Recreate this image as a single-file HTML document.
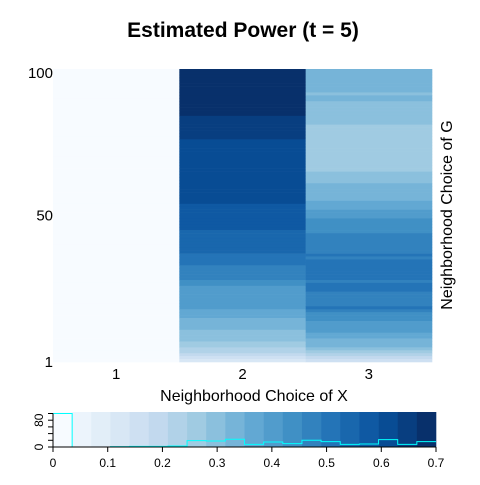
<!DOCTYPE html>
<html><head><meta charset="utf-8"><style>
body{margin:0;background:#fff;}
svg text{font-family:"Liberation Sans",sans-serif;}
</style></head><body>
<svg id="chart" width="480" height="480" viewBox="0 0 480 480">
<text x="243" y="37" font-size="21" font-weight="bold" text-anchor="middle">Estimated Power (t = 5)</text>
<g id="heat"></g>
<g id="axes"></g>
<text x="254" y="401" font-size="16" text-anchor="middle">Neighborhood Choice of X</text>
<text transform="translate(452,215) rotate(-90)" font-size="16" text-anchor="middle">Neighborhood Choice of G</text>
<g id="cbar"></g>
</svg>
<script>
// rows listed from y=100 (top) down to y=1 (bottom)
const categories = ["1","2","3"];
const yTickLabels = ["100","50","1"];
const keyTickLabels = ["0","0.1","0.2","0.3","0.4","0.5","0.6","0.7"];
const col1 = [0,0,0,0,0,0,0,0,0,0,0,0,0,0,0,0,0,0,0,0,0,0,0,0,0,0,0,0,0,0,0,0,0,0,0,0,0,0,0,0,0,0,0,0,0,0,0,0,0,0,0,0,0,0,0,0,0,0,0,0,0,0,0,0,0,0,0,0,0,0,0,0,0,0,0,0,0,0,0,0,0,0,0,0,0,0,0,0,0,0,0,0,0,0,0,0,0,0,0,0];
const col2 = [0.683,0.683,0.683,0.683,0.683,0.683,0.683,0.683,0.683,0.683,0.683,0.683,0.683,0.683,0.683,0.683,
0.648,0.648,0.648,0.648,0.648,0.648,0.648,0.648,
0.613,0.613,0.613,0.613,0.613,0.613,0.613,0.613,0.613,0.613,0.613,0.613,0.613,0.613,0.613,0.613,0.613,0.613,0.613,0.613,0.613,0.613,
0.578,0.578,0.578,0.578,0.578,0.578,0.578,0.578,0.578,
0.543,0.543,0.543,0.543,0.543,0.543,0.543,0.543,
0.508,0.508,0.508,0.508,0.473,0.473,0.473,0.473,0.473,0.438,0.438,
0.403,0.403,0.403,0.403,0.403,0.403,0.403,0.403,
0.368,0.368,0.368,0.333,0.333,0.333,0.333,0.298,0.298,0.298,0.298,
0.263,0.263,0.228,0.228,0.193,0.158,0.123];
const col3 = [0.333,0.333,0.333,0.333,0.333,0.333,0.333,0.333,0.298,0.333,0.333,
0.298,0.298,0.298,0.298,0.298,0.298,0.298,0.298,
0.263,0.263,0.263,0.263,0.263,0.263,0.263,0.263,0.263,0.263,0.263,0.263,0.263,0.263,0.263,0.263,
0.298,0.298,0.298,0.298,0.333,0.333,0.333,0.333,0.333,0.333,
0.368,0.368,0.368,0.403,0.403,0.403,0.438,0.438,0.438,0.438,0.438,
0.473,0.473,0.473,0.473,0.473,0.473,0.473,0.508,0.473,
0.508,0.508,0.508,0.508,0.508,0.508,0.508,0.473,0.508,0.508,0.508,
0.473,0.473,0.473,0.473,0.473,0.508,0.473,
0.438,0.438,0.438,0.403,0.403,0.403,0.403,0.368,0.368,
0.333,0.333,0.333,0.298,0.263,0.228,0.193,0.158];
const columns = [col1,col2,col3];

const NS="http://www.w3.org/2000/svg";
function mk(tag,attrs,parent){const e=document.createElementNS(NS,tag);for(const k in attrs)e.setAttribute(k,attrs[k]);parent.appendChild(e);return e;}
const stops=["#f7fbff","#deebf7","#c6dbef","#9ecae1","#6baed6","#4292c6","#2171b5","#08519c","#08306b"];
function hex(h){return [1,3,5].map(i=>parseInt(h.substr(i,2),16));}
function ramp(t){const p=t*(stops.length-1);const i=Math.min(Math.floor(p),stops.length-2);const f=p-i;const a=hex(stops[i]),b=hex(stops[i+1]);return "rgb("+a.map((v,k)=>Math.round(v+(b[k]-v)*f)).join(",")+")";}
const NB=20, VMAX=0.7;
function binOf(v){return Math.max(0,Math.min(NB-1,Math.floor(v/VMAX*NB)));}
function colorOf(v){return ramp(binOf(v)/(NB-1));}

const L=53,R=432,T=69,B=362;
const nRows=col1.length;
const xBand=i=>L+(R-L)*i/categories.length;
const yRow=r=>T+(B-T)*r/nRows;
const heat=document.getElementById('heat');
columns.forEach((col,ci)=>{
  col.forEach((v,r)=>{
    const rc=mk('rect',{x:xBand(ci),y:yRow(r),width:xBand(ci+1)-xBand(ci)+0.3,height:yRow(r+1)-yRow(r)+0.3,fill:colorOf(v)},heat);
    
    
  });
});
const axes=document.getElementById('axes');
categories.forEach((c,i)=>{
  const t=mk('text',{x:(xBand(i)+xBand(i+1))/2,y:379,'font-size':15,'text-anchor':'middle'},axes);
  t.textContent=c;
  
  
});
const yPos=[T+9,(T+B)/2+5,B+5];
yTickLabels.forEach((s,i)=>{
  const t=mk('text',{x:53,y:yPos[i],'font-size':15,'text-anchor':'end'},axes);
  t.textContent=s;
  
  
});

const cb=document.getElementById('cbar');
const KL=53,KR=436,KT=412,KB=447;
const kx=v=>KL+(KR-KL)*v/VMAX;
const ky=c=>KB-(KB-413.5)*c/100;
for(let b=0;b<NB;b++){
  const rc=mk('rect',{x:kx(b*VMAX/NB),y:KT,width:kx(VMAX/NB)-KL+0.3,height:KB-KT,fill:ramp(b/(NB-1))},cb);
  
  
}
const counts=new Array(NB).fill(0);
columns.forEach(col=>col.forEach(v=>counts[binOf(v)]++));
let d="M"+kx(0)+","+KB;
counts.forEach((c,b)=>{d+=" L"+kx(b*VMAX/NB)+","+ky(c)+" L"+kx((b+1)*VMAX/NB)+","+ky(c);});
const hp=mk('path',{d:d,fill:'none',stroke:'#00ffff','stroke-width':1},cb);


mk('line',{x1:KL,y1:KB,x2:KR,y2:KB,stroke:'#000'},cb);
keyTickLabels.forEach(s=>{
  const v=parseFloat(s);
  mk('line',{x1:kx(v),y1:KB,x2:kx(v),y2:KB+5,stroke:'#000'},cb);
  const t=mk('text',{x:kx(v),y:467,'font-size':12,'text-anchor':'middle'},cb);
  t.textContent=s;
  
  
});
mk('line',{x1:KL,y1:ky(0),x2:KL,y2:ky(100),stroke:'#000'},cb);
[0,20,40,60,80,100].forEach(c=>mk('line',{x1:KL,y1:ky(c),x2:KL-5,y2:ky(c),stroke:'#000'},cb));
[["0",0],["80",80]].forEach(([s,c])=>{
  const t=mk('text',{transform:"translate(43,"+ky(c)+") rotate(-90)",'font-size':12,'text-anchor':'middle'},cb);
  t.textContent=s;
  
  
});
</script>
</body></html>
